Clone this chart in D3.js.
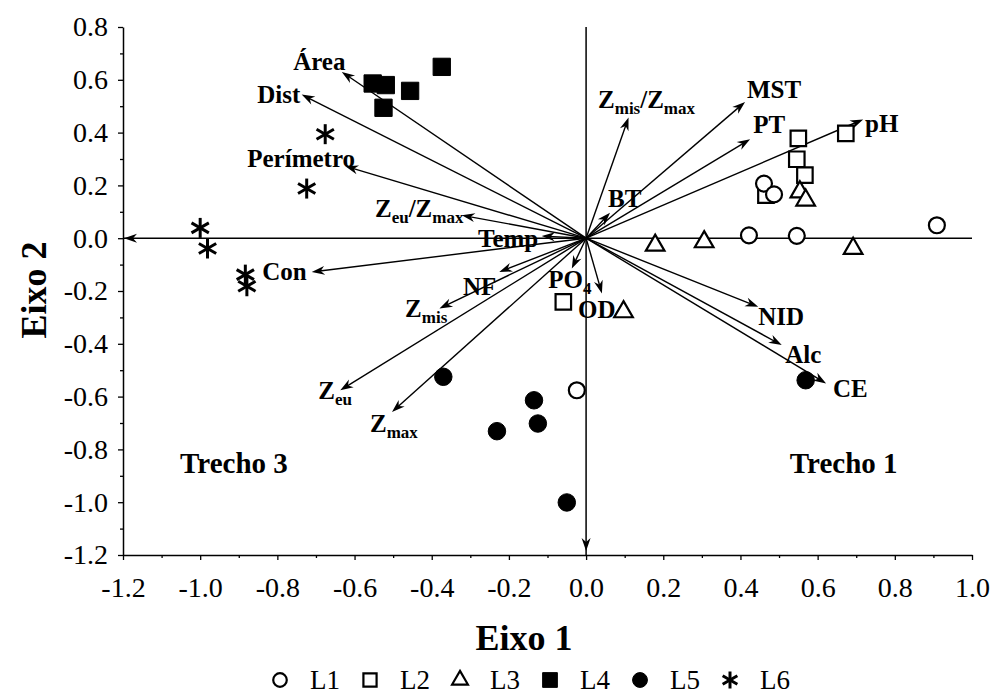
<!DOCTYPE html>
<html><head><meta charset="utf-8">
<script src="https://cdn.jsdelivr.net/npm/d3@7"></script>
<style>body{margin:0;background:#fff}svg{display:block}</style>
</head><body>
<svg id="c" width="992" height="695"></svg>
<script>
// ---- data ----
const xTicks = [-1.2,-1.0,-0.8,-0.6,-0.4,-0.2,0.0,0.2,0.4,0.6,0.8,1.0];
const yTicks = [-1.2,-1.0,-0.8,-0.6,-0.4,-0.2,0.0,0.2,0.4,0.6,0.8];
const groups = ["L1","L2","L3","L4","L5","L6"];
const L1 = [[0.461,0.207],[0.487,0.166],[0.909,0.049],[0.422,0.011],[0.546,0.009],[-0.024,-0.576]];
const L2 = [[0.550,0.378],[0.546,0.299],[0.567,0.239],[0.673,0.397],[0.466,0.163],[-0.059,-0.241]];
const L3 = [[0.554,0.175],[0.569,0.144],[0.179,-0.027],[0.306,-0.014],[0.692,-0.039],[0.097,-0.279]];
const L4 = [[-0.553,0.586],[-0.519,0.580],[-0.456,0.558],[-0.525,0.494],[-0.374,0.649]];
const L5 = [[-0.370,-0.525],[-0.135,-0.614],[-0.125,-0.702],[-0.231,-0.731],[-0.050,-1.001],[0.569,-0.538]];
const L6 = [[-0.676,0.394],[-0.724,0.188],[-1.000,0.039],[-0.981,-0.039],[-0.883,-0.138],[-0.879,-0.182]];
// environmental vectors (arrow tips); {..} marks a subscript
const vecNames = ["Área","Dist","Perímetro","Z{eu}/Z{max}","Temp","Con","NF","Z{mis}","Z{eu}","Z{max}","PO{4}","OD","BT","Z{mis}/Z{max}","MST","PT","pH","NID","Alc","CE"];
const vecX = [-0.633,-0.737,-0.624,-0.322,-0.115,-0.711,-0.225,-0.380,-0.637,-0.503,-0.037,0.041,0.062,0.110,0.412,0.425,0.718,0.446,0.507,0.622];
const vecY = [0.630,0.544,0.273,0.087,0.008,-0.128,-0.128,-0.266,-0.576,-0.658,-0.115,-0.209,0.096,0.457,0.516,0.375,0.450,-0.260,-0.405,-0.550];
// label anchors (data units, left/baseline)
const labX = [-0.759,-0.852,-0.878,-0.547,-0.280,-0.839,-0.319,-0.469,-0.694,-0.560,-0.098,-0.021,0.057,0.031,0.417,0.433,0.723,0.446,0.516,0.640];
const labY = [0.636,0.511,0.269,0.080,-0.034,-0.159,-0.216,-0.299,-0.610,-0.735,-0.189,-0.303,0.117,0.492,0.530,0.398,0.402,-0.330,-0.473,-0.602];
const regionNames = ["Trecho 3","Trecho 1"];
const regionX = [-1.052,0.528];
const regionY = [-0.890,-0.890];

// ---- drawing ----
const svg = d3.select("#c");
const FONT = "'Liberation Serif','Times New Roman',serif";
const x = d3.scaleLinear().domain([-1.2,1.0]).range([123,972]);
const y = d3.scaleLinear().domain([-1.2,0.8]).range([555,27]);
const fmt = d => d.toFixed(1);

// zero lines
svg.append("line").attr("x1",x(-1.2)).attr("x2",x(1.0)).attr("y1",y(0)).attr("y2",y(0))
  .attr("stroke","#000").attr("stroke-width",1.5);
svg.append("line").attr("x1",x(0)).attr("x2",x(0)).attr("y1",y(0.8)).attr("y2",y(-1.2))
  .attr("stroke","#000").attr("stroke-width",1.5);

function arrowHead(g, tx, ty, ang){
  const L=13, W=4.5, N=9;
  const c=Math.cos(ang), s=Math.sin(ang);
  const p = (a,b)=>[tx + a*c - b*s, ty + a*s + b*c];
  const pts=[p(0,0),p(-L,W),p(-N,0),p(-L,-W)];
  g.append("path").attr("d","M"+pts.map(q=>q.join(",")).join("L")+"Z").attr("fill","#000");
}
const ga = svg.append("g");
arrowHead(ga, x(-1.2)+1, y(0), Math.PI);
arrowHead(ga, x(0), y(-1.2)-4, Math.PI/2);

// axes
const minorX = d3.range(11).map(i => -1.1 + i*0.2);
const minorY = d3.range(10).map(i => -1.1 + i*0.2);
svg.append("g").attr("transform",`translate(0,${y(-1.2)})`)
  .call(d3.axisBottom(x).tickValues(xTicks).tickFormat(fmt).tickSize(5).tickPadding(17).tickSizeOuter(0));
svg.append("g").attr("transform",`translate(0,${y(-1.2)})`)
  .call(d3.axisBottom(x).tickValues(minorX).tickFormat("").tickSize(3).tickSizeOuter(0))
  .select(".domain").remove();
svg.append("g").attr("transform",`translate(${x(-1.2)},0)`)
  .call(d3.axisLeft(y).tickValues(yTicks).tickFormat(fmt).tickSize(5).tickPadding(10).tickSizeOuter(0));
svg.append("g").attr("transform",`translate(${x(-1.2)},0)`)
  .call(d3.axisLeft(y).tickValues(minorY).tickFormat("").tickSize(3).tickSizeOuter(0))
  .select(".domain").remove();
svg.selectAll(".domain").attr("stroke","#000").attr("stroke-width",1.5);
svg.selectAll(".tick line").attr("stroke","#000").attr("stroke-width",1.3);
svg.selectAll(".tick text").attr("font-family",FONT).attr("font-size",28).attr("fill","#000");

// vectors
const gv = svg.append("g");
vecNames.forEach((n,i)=>{
  const x0=x(0), y0=y(0), x1=x(vecX[i]), y1=y(vecY[i]);
  const ang=Math.atan2(y1-y0,x1-x0);
  gv.append("line").attr("x1",x0).attr("y1",y0).attr("x2",x1-6*Math.cos(ang)).attr("y2",y1-6*Math.sin(ang))
    .attr("stroke","#000").attr("stroke-width",1.4);
  arrowHead(gv,x1,y1,ang);
});

// vector labels with subscripts
function richText(g, str, px, py, size){
  const t = g.append("text").attr("x",px).attr("y",py).attr("font-family",FONT)
    .attr("font-weight","bold").attr("font-size",size).attr("fill","#000");
  const parts = str.split(/(\{[^}]*\})/).filter(s=>s.length);
  let sub=false;
  parts.forEach(p=>{
    if(p.startsWith("{")){
      t.append("tspan").attr("font-size",size*0.68).attr("dy",6).text(p.slice(1,-1));
      sub=true;
    } else {
      const ts=t.append("tspan").text(p);
      if(sub){ ts.attr("dy",-6); sub=false; }
    }
  });
  return t;
}
const gl = svg.append("g");
vecNames.forEach((n,i)=> richText(gl,n,x(labX[i]),y(labY[i]),25));
regionNames.forEach((n,i)=> richText(gl,n,x(regionX[i]),y(regionY[i]),29));

// markers
function star(g,cx,cy,r){
  [90,30,150].forEach(a=>{
    const c=Math.cos(a*Math.PI/180)*r, s=Math.sin(a*Math.PI/180)*r;
    g.append("line").attr("x1",cx-c).attr("y1",cy-s).attr("x2",cx+c).attr("y2",cy+s)
      .attr("stroke","#000").attr("stroke-width",3);
  });
}
const styles = {
  L1:{type:d3.symbolCircle,size:200,fill:"#fff"},
  L2:{type:d3.symbolSquare,size:240,fill:"#fff"},
  L3:{type:d3.symbolTriangle,size:150,fill:"#fff"},
  L4:{type:d3.symbolSquare,size:300,fill:"#000"},
  L5:{type:d3.symbolCircle,size:240,fill:"#000"},
  L6:{type:"star"}
};
function drawMarker(g,key,cx,cy,scale=1){
  const st=styles[key];
  if(st.type==="star"){ star(g,cx,cy,10*scale); return; }
  g.append("path").attr("d",d3.symbol().type(st.type).size(st.size*scale*scale)())
    .attr("transform",`translate(${cx},${cy})`).attr("fill",st.fill)
    .attr("stroke","#000").attr("stroke-width",st.fill==="#fff"?2.2:1);
}
const gp = svg.append("g");
const seriesByName = {L1,L2,L3,L4,L5,L6};
["L2","L1","L3","L4","L5","L6"].forEach(k=>{
  seriesByName[k].forEach(d=>drawMarker(gp,k,x(d[0]),y(d[1])));
});

// axis titles
svg.append("text").attr("x",524).attr("y",650).attr("text-anchor","middle")
  .attr("font-family",FONT).attr("font-weight","bold").attr("font-size",36).text("Eixo 1");
svg.append("text").attr("transform","translate(46,290) rotate(-90)").attr("text-anchor","middle")
  .attr("font-family",FONT).attr("font-weight","bold").attr("font-size",36).text("Eixo 2");

// legend
const gLeg = svg.append("g");
groups.forEach((k,i)=>{
  const cx = 280 + i*90, cy = 680;
  drawMarker(gLeg,k,cx,cy,0.85);
  gLeg.append("text").attr("x",cx+30).attr("y",689).attr("font-family",FONT)
    .attr("font-size",27).attr("fill","#000").text(k);
});
</script>
</body></html>
